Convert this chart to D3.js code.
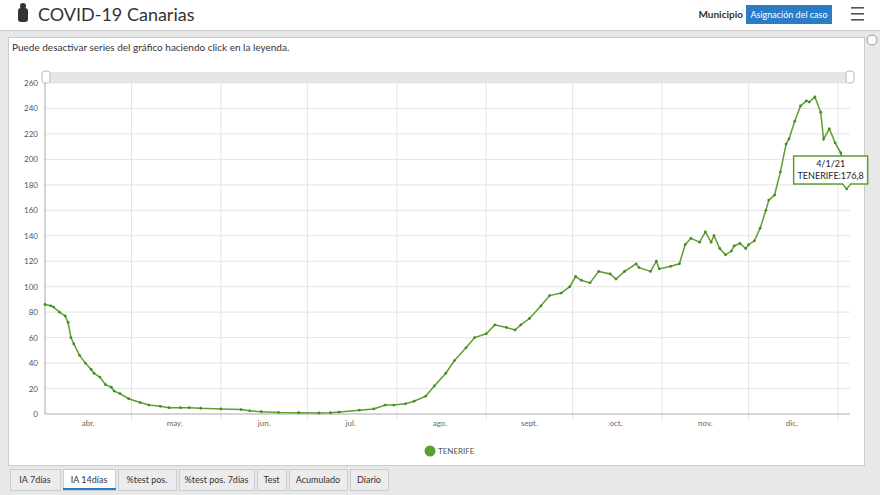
<!DOCTYPE html><html><head><meta charset="utf-8">
<script src="https://cdn.jsdelivr.net/npm/d3@7"></script>
<style>body{margin:0;background:#e8e8e8;font-family:Lato,"Open Sans",sans-serif;}svg{display:block}</style></head><body>
<svg id="c" width="880" height="495"></svg>
<script>
const dayOffsets=[0,2,3,5,7,8,9,10,12,14,16,17,19,21,23,24,26,29,33,36,40,43,47,50,54,61,68,71,75,81,88,95,99,102,109,114,118,121,125,128,132,135,139,142,146,149,153,156,160,163,165,168,172,175,179,182,184,186,189,192,196,198,201,205,206,210,212,213,217,220,222,224,227,229,231,232,234,236,238,239,241,243,244,246,248,250,251,253,255,257,258,260,262,264,265,267,269,270,272,274,276,278];
const values=[86,85,84,80,77,72,60,55,46,40,35,32,29,23,21,18,16,12,9,7,6,5,5,5,4.5,4,3.5,2.5,1.8,1.2,1,0.8,1,1.5,3,4,7,7,8,10,14,22,32,42,52,60,63,70,68,66,70,75,85,93,95,100,108,105,103,112,110,106,112,118,115,112,120,114,116,118,133,138,135,143,135,140,130,125,128,132,134,130,133,136,146,160,168,172,190,212,216,230,242,246,245,249,237,216,224,213,205,176.8];
const monthLabels=["abr.","may.","jun.","jul.","ago.","sept.","oct.","nov.","dic."];
const yTicks=[0,20,40,60,80,100,120,140,160,180,200,220,240,260];
const tabs=["IA 7días","IA 14días","%test pos.","%test pos. 7días","Test","Acumulado","Diario"];
const seriesName="TENERIFE";
const start=new Date(2020,3,1);
const data=dayOffsets.map((d,i)=>({date:d3.timeDay.offset(start,d),v:values[i]}));
const svg=d3.select("#c");
const green="#5aa02c";
// header
svg.append("rect").attr("x",0).attr("y",0).attr("width",880).attr("height",30).attr("fill","#fff");
svg.append("rect").attr("x",0).attr("y",30).attr("width",880).attr("height",1).attr("fill","#ccc");
const crest=svg.append("g").attr("transform","translate(23,14)");
crest.append("rect").attr("x",-5).attr("y",-6).attr("width",10).attr("height",14).attr("rx",3).attr("fill","#333");
crest.append("circle").attr("cx",0).attr("cy",-8).attr("r",3).attr("fill","#333");
svg.append("text").attr("x",38).attr("y",21).attr("font-size",18).attr("fill","#333").text("COVID-19 Canarias");
svg.append("text").attr("x",743).attr("y",18).attr("text-anchor","end").attr("font-size",10).attr("font-weight","bold").attr("fill","#333").text("Municipio");
svg.append("rect").attr("x",746).attr("y",5).attr("width",86).attr("height",19).attr("fill","#2b7bc5");
svg.append("text").attr("x",789).attr("y",18).attr("text-anchor","middle").attr("font-size",9).attr("fill","#fff").text("Asignación del caso");
[7,13,19].forEach(y=>svg.append("rect").attr("x",851).attr("y",y).attr("width",13).attr("height",1.6).attr("fill","#555"));
// panel
svg.append("rect").attr("x",8.5).attr("y",37.5).attr("width",856).attr("height",428).attr("fill","#fff").attr("stroke","#ccc");
svg.append("circle").attr("cx",872).attr("cy",40).attr("r",5).attr("fill","#fff").attr("stroke","#999");
svg.append("text").attr("x",12).attr("y",51).attr("font-size",10).attr("fill","#333").text("Puede desactivar series del gráfico haciendo click en la leyenda.");
// scrollbar
svg.append("rect").attr("x",45).attr("y",72).attr("width",806).attr("height",11).attr("fill","#e6e6e6");
[46,850].forEach(x=>{svg.append("rect").attr("x",x-4).attr("y",71).attr("width",8).attr("height",12).attr("rx",3).attr("fill","#fff").attr("stroke","#bbb");});
const x=d3.scaleTime().domain([start,new Date(2021,0,1)]).range([45,838]);
const y=d3.scaleLinear().domain([0,260]).range([414,83]);
const months=d3.timeMonth.range(start,new Date(2021,0,2));
const g=svg.append("g");
months.forEach(m=>{if(+m!==+start)g.append("line").attr("x1",x(m)).attr("x2",x(m)).attr("y1",83).attr("y2",420).attr("stroke","#e4e4e4");});
yTicks.forEach(t=>{if(t>0)g.append("line").attr("x1",45).attr("x2",850).attr("y1",y(t)).attr("y2",y(t)).attr("stroke","#e4e4e4");
 g.append("text").attr("x",38).attr("y",y(t)+3).attr("text-anchor","end").attr("font-size",8).attr("fill","#555").text(t);});
g.append("line").attr("x1",45).attr("x2",850).attr("y1",414).attr("y2",414).attr("stroke","#aaa");
g.append("line").attr("x1",45).attr("x2",45).attr("y1",83).attr("y2",414).attr("stroke","#aaa");
months.forEach((m,i)=>{const mid=new Date(m.getFullYear(),m.getMonth(),16);
 g.append("text").attr("x",x(mid)).attr("y",426).attr("text-anchor","middle").attr("font-size",8).attr("fill","#666").text(monthLabels[i]);});
const line=d3.line().x(d=>x(d.date)).y(d=>y(d.v));
g.append("path").datum(data).attr("d",line).attr("fill","none").attr("stroke",green).attr("stroke-width",1.5);
g.selectAll("circle.p").data(data).join("circle").attr("cx",d=>x(d.date)).attr("cy",d=>y(d.v)).attr("r",1.4).attr("fill","#4a8a22");
// tooltip
const last=data[data.length-1];
const tx=x(last.date),ty=y(last.v);
const tt=svg.append("g");
tt.append("path").attr("d",`M${tx-53},${ty-33}h74v28h-17l-4,5l-4,-5h-49z`).attr("transform",`translate(${0},${0})`).attr("fill","#fff").attr("stroke",green).attr("stroke-width",1.5);
tt.append("text").attr("x",tx-16).attr("y",ty-22).attr("text-anchor","middle").attr("font-size",9).attr("fill","#222").text("4/1/21");
tt.append("text").attr("x",tx-16).attr("y",ty-10).attr("text-anchor","middle").attr("font-size",9).attr("fill","#222").text(seriesName+":176,8");
// legend
svg.append("circle").attr("cx",430).attr("cy",451).attr("r",5.5).attr("fill",green);
svg.append("text").attr("x",438).attr("y",454).attr("font-size",8).attr("fill","#555").text(seriesName);
// tabs
let tx0=10;
const widths=[50,52,58,75,29,58,38];
tabs.forEach((t,i)=>{const w=widths[i];
 svg.append("rect").attr("x",tx0+0.5).attr("y",469.5).attr("width",w).attr("height",21).attr("fill",i==1?"#fff":"#ececec").attr("stroke","#ccc");
 if(i==1)svg.append("rect").attr("x",tx0).attr("y",488).attr("width",w+1).attr("height",2).attr("fill","#2b7bc5");
 svg.append("text").attr("x",tx0+w/2).attr("y",483).attr("text-anchor","middle").attr("font-size",9).attr("fill","#333").text(t);
 tx0+=w+3;});
</script></body></html>
